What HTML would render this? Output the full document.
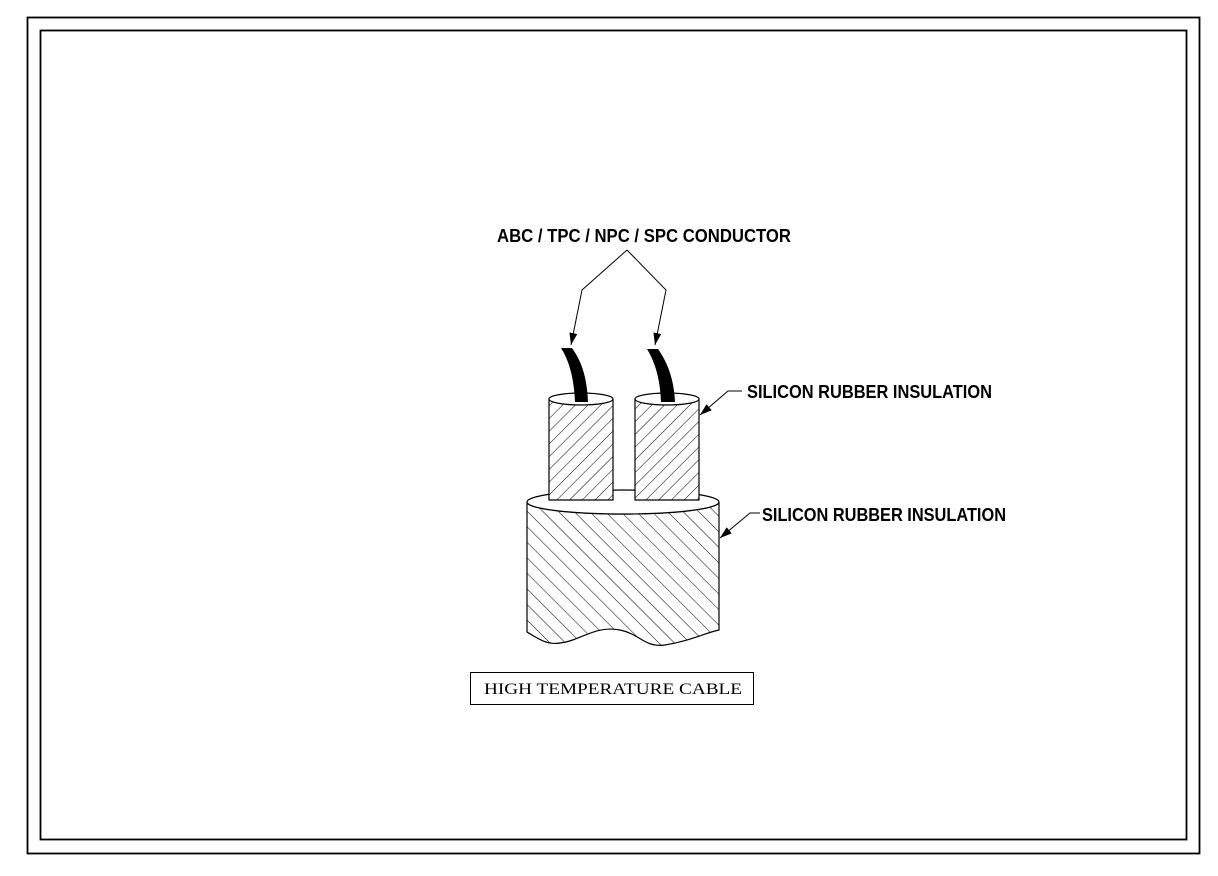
<!DOCTYPE html>
<html><head><style>html,body{margin:0;padding:0;background:#fff}svg{display:block}</style></head>
<body>
<svg width="1218" height="876" viewBox="0 0 1218 876" xmlns="http://www.w3.org/2000/svg">
<defs>
<pattern id="h1" patternUnits="userSpaceOnUse" width="9" height="9" patternTransform="rotate(45)">
<line x1="0" y1="0" x2="0" y2="9" stroke="#000" stroke-width="1"/></pattern>
<pattern id="h2" patternUnits="userSpaceOnUse" width="11" height="11" patternTransform="rotate(-45)">
<line x1="0" y1="0" x2="0" y2="11" stroke="#000" stroke-width="1"/></pattern>
<marker id="ar" markerWidth="12" markerHeight="8" refX="12" refY="4" orient="auto" markerUnits="userSpaceOnUse">
<path d="M0,0 L12,4 L0,8 Z" fill="#000"/></marker>
</defs>
<rect x="27.5" y="17.5" width="1172" height="836" fill="none" stroke="#000" stroke-width="1.8"/>
<rect x="40.5" y="30.5" width="1146" height="809" fill="none" stroke="#000" stroke-width="1.8"/>

<!-- big cylinder -->
<path d="M527,502 L527,632 C540,640 548,645 560,643 C580,641 595,625 620,630 C640,634 645,648 665,645 C690,641 705,633 719,630 L719,502 A96,12 0 0 1 527,502 Z" fill="url(#h2)" stroke="#000" stroke-width="1.2"/>
<ellipse cx="623" cy="502" rx="96" ry="12" fill="#fff" stroke="#000" stroke-width="1.2"/>
<line x1="613" y1="490" x2="635" y2="490" stroke="#000"/>

<!-- small cylinders -->
<rect x="549" y="399" width="64" height="101" fill="#fff"/>
<path d="M549,399 L549,500 L613,500 L613,399 Z" fill="url(#h1)" stroke="#000" stroke-width="1.2"/>
<ellipse cx="581" cy="399" rx="32" ry="6" fill="#fff" stroke="#000" stroke-width="1.2"/>
<rect x="635" y="399" width="64" height="101" fill="#fff"/>
<path d="M635,399 L635,500 L699,500 L699,399 Z" fill="url(#h1)" stroke="#000" stroke-width="1.2"/>
<ellipse cx="667" cy="399" rx="32" ry="6" fill="#fff" stroke="#000" stroke-width="1.2"/>

<!-- conductors -->
<path d="M561,348 L572,348 C582,362 587,378 588,402 L575,402 C574,380 570,362 561,348 Z" fill="#000"/>
<path d="M647,349 L658,349 C668,363 674,380 675,402 L661,402 C660,380 656,364 647,349 Z" fill="#000"/>

<!-- leaders -->
<polyline points="627,250 582,290 571,345" fill="none" stroke="#000" stroke-width="1" marker-end="url(#ar)"/>
<polyline points="627,250 666,290 655,345" fill="none" stroke="#000" stroke-width="1" marker-end="url(#ar)"/>
<polyline points="742,391 728,391 700,415" fill="none" stroke="#000" stroke-width="1" marker-end="url(#ar)"/>
<polyline points="760,513 750,513 720,538" fill="none" stroke="#000" stroke-width="1" marker-end="url(#ar)"/>

<g font-family="Liberation Sans, sans-serif" font-weight="bold" font-size="18">
<text x="497" y="242" textLength="294" lengthAdjust="spacingAndGlyphs">ABC / TPC / NPC / SPC CONDUCTOR</text>
<text x="747" y="398" textLength="245" lengthAdjust="spacingAndGlyphs">SILICON RUBBER INSULATION</text>
<text x="762" y="521" textLength="244" lengthAdjust="spacingAndGlyphs">SILICON RUBBER INSULATION</text>
</g>
<rect x="470.5" y="672.5" width="283" height="32" fill="none" stroke="#000" stroke-width="1"/>
<text x="484" y="694" font-family="Liberation Serif, serif" font-size="16" textLength="258" lengthAdjust="spacingAndGlyphs">HIGH TEMPERATURE CABLE</text>
</svg>
</body></html>
